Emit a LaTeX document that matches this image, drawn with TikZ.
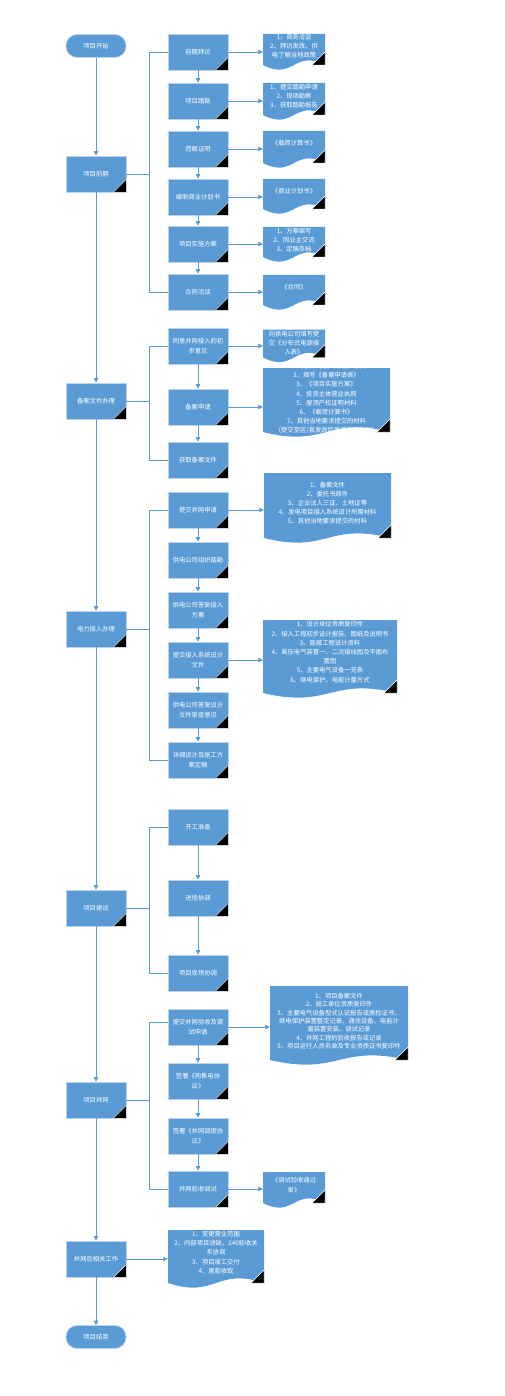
\documentclass[tikz,border=0pt]{standalone}
\usepackage{fontspec}
\setmainfont{Noto Sans CJK SC}
\usepackage{tikz}
\usetikzlibrary{arrows.meta}
\definecolor{boxblue}{HTML}{5B9BD5}
\definecolor{boxedge}{HTML}{BCD3EA}
\tikzset{
  every picture/.style={line join=round, >={Triangle[length=4.5pt,width=4.5pt]}},
  stepbox/.style={rectangle, fill=boxblue, draw=boxedge, line width=0.7pt, minimum width=60pt, minimum height=36pt, inner sep=1pt, text=white, align=center, font=\fontsize{6.3}{9.2}\selectfont},
  endbox/.style={stepbox, minimum height=23pt, rounded corners=11pt},
  docbox/.style={rectangle, inner sep=0pt, text=white, align=center, font=\fontsize{6.3}{9.2}\selectfont},
  flow/.style={draw=boxblue, line width=0.8pt},
  corner/.style={fill=black, draw=white, line width=0.4pt},
}
\newcommand\docnode[8][]{%
  \fill[boxblue] (#3-#5,#4+#7-#6) -- (#3+#5,#4+#7-#6) -- (#3+#5,#4+#7+#6) .. controls (#3,#4+#7+#6-16) and (#3,#4+#7+#6+16) .. (#3-#5,#4+#7+#6) -- cycle;
  \node[docbox,minimum width=2*#5,#1] (#2) at (#3,#4) {#8};
  \filldraw[corner] (#3+#5,#4+#7+#6) -- ++(0,-13) -- ++(-13,13) -- cycle;}

\begin{document}
\begin{tikzpicture}[x=1pt,y=-1pt]
\useasboundingbox (0,0) rectangle (504,1396);
\node[endbox] (S) at (96,46) {项目开始};
\node[stepbox] (L1) at (96,174) {项目前期};
\node[stepbox] (L2) at (96,401) {备案文件办理};
\node[stepbox] (L3) at (96,629) {电力接入办理};
\node[stepbox] (L4) at (96,908) {项目建设};
\node[stepbox] (L5) at (96,1100) {项目并网};
\node[stepbox] (L6) at (96,1259) {并网后相关工作};
\node[endbox] (E) at (96,1337) {项目结束};

\node[stepbox] (b1) at (198,52) {前期拜访};
\node[stepbox] (b2) at (198,101) {项目踏勘};
\node[stepbox] (b3) at (198,149) {荷载证明};
\node[stepbox] (b4) at (198,197) {编制商业计划书};
\node[stepbox] (b5) at (198,244) {项目实施方案};
\node[stepbox] (b6) at (198,292) {合同洽谈};
\node[stepbox] (b7) at (198,346) {同意并网接入的初\\步意见};
\node[stepbox] (b8) at (198,407) {备案申请};
\node[stepbox] (b9) at (198,460) {获取备案文件};
\node[stepbox] (b10) at (198,510) {提交并网申请};
\node[stepbox] (b11) at (198,560) {供电公司组织踏勘};
\node[stepbox] (b12) at (198,610) {供电公司答复接入\\方案};
\node[stepbox] (b13) at (198,660) {提交接入系统设计\\文件};
\node[stepbox] (b14) at (198,710) {供电公司答复设计\\文件审查意见};
\node[stepbox] (b15) at (198,760) {详细设计及施工方\\案定稿};
\node[stepbox] (b16) at (198,827) {开工准备};
\node[stepbox] (b17) at (198,898) {进场协调};
\node[stepbox] (b18) at (198,973) {项目现场协调};
\node[stepbox] (b19) at (198,1027) {提交并网验收及调\\试申请};
\node[stepbox] (b20) at (198,1081) {签署《购售电协\\议》};
\node[stepbox] (b21) at (198,1136) {签署《并网调度协\\议》};
\node[stepbox] (b22) at (198,1189) {并网验收调试};

\foreach \i in {1,...,6} \filldraw[corner] (L\i.south east) -- ([yshift=13pt]L\i.south east) -- ([xshift=-13pt]L\i.south east) -- cycle;
\foreach \i in {1,...,22} \filldraw[corner] (b\i.south east) -- ([yshift=13pt]b\i.south east) -- ([xshift=-13pt]b\i.south east) -- cycle;

\docnode{d1}{294}{46}{31}{15.5}{3.5}{1、商务洽谈\\2、拜访发改、供\\电了解当地政策}
\docnode{d2}{294}{96}{31}{16}{3}{1、提交踏勘申请\\2、现场勘察\\3、获取踏勘报告}
\docnode{d3}{294}{143}{31}{16}{4}{《载荷计算书》}
\docnode{d4}{294}{191}{31}{15}{3}{《商业计划书》}
\docnode{d5}{294}{240}{31}{15}{2}{1、方案编写\\2、同业主交流\\3、定稿存档}
\docnode{d6}{294}{287}{31}{15}{3}{《合同》}
\docnode{d7}{294}{343}{31}{14}{0.5}{向供电公司填写提\\交《分布式电源接\\入表》}
\docnode{d8}{326.5}{398.5}{63.5}{32}{1.5}{1、同意并网接入的初步意见\\2、填写《备案申请表》\\3、《项目实施方案》\\4、投资主体营业执照\\5、屋顶产权证明材料\\6、《载荷计算书》\\7、其他当地要求提交的材料\\（提交至区/县发改后再提交市发改）}
\docnode{d9}{327.5}{503}{63.5}{32.5}{2.5}{1、备案文件\\2、委托书原件\\3、企业法人三证、土地证等\\4、发电项目接入系统设计所需材料\\5、其他当地要求提交的材料}
\docnode{d10}{330}{652}{67}{36.5}{4.5}{1、设计单位资质复印件\\2、接入工程初步设计报告、图纸及说明书\\3、隐蔽工程设计资料\\4、高压电气装置一、二次接线图及平面布\\置图\\5、主要电气设备一览表\\6、继电保护、电能计量方式}
\docnode[font=\fontsize{6.3}{8.3}\selectfont]{d11}{339}{1021}{69}{37}{2}{1、项目备案文件\\2、施工单位资质复印件\\3、主要电气设备型式认证报告或质检证书，\\继电保护装置整定记录、通信设备、电能计\\量装置安装、调试记录\\4、并网工程的验收报告或记录\\5、项目运行人员名单及专业资质证书复印件}
\docnode{d12}{294}{1185}{31}{15.5}{2.5}{《调试验收通过\\单》}
\docnode{d13}{216}{1252.5}{48}{26.5}{4}{1、变更营业范围\\2、内部项目消缺，240验收关\\系协调\\3、项目竣工交付\\4、尾款收取}

\foreach \a/\b in {S/L1,L1/L2,L2/L3,L3/L4,L4/L5,L5/L6,L6/E} \draw[flow,->] (\a) -- (\b);
\foreach \a/\b in {b1/b2,b2/b3,b3/b4,b4/b5,b5/b6,b7/b8,b8/b9,b10/b11,b11/b12,b12/b13,b13/b14,b14/b15,b16/b17,b17/b18,b19/b20,b20/b21,b21/b22} \draw[flow,->] (\a) -- (\b);
\foreach \a/\b in {b1/d1,b2/d2,b3/d3,b4/d4,b5/d5,b6/d6,b7/d7,b8/d8,b10/d9,b13/d10,b19/d11,b22/d12,L6/d13} \draw[flow,->] (\a.east) -- (\a.east -| \b.west);

\draw[flow] (L1.east) -- ++(23,0) coordinate (j1);
\draw[flow] (b1.west) -| (j1) |- (b6.west);
\draw[flow] (L2.east) -- ++(23,0) coordinate (j2);
\draw[flow] (b7.west) -| (j2) |- (b9.west);
\draw[flow] (L3.east) -- ++(23,0) coordinate (j3);
\draw[flow] (b10.west) -| (j3) |- (b15.west);
\draw[flow] (L4.east) -- ++(23,0) coordinate (j4);
\draw[flow] (b16.west) -| (j4) |- (b18.west);
\draw[flow] (L5.east) -- ++(23,0) coordinate (j5);
\draw[flow] ([yshift=5pt]b19.west) -| (j5) |- (b22.west);
\end{tikzpicture}
\end{document}
